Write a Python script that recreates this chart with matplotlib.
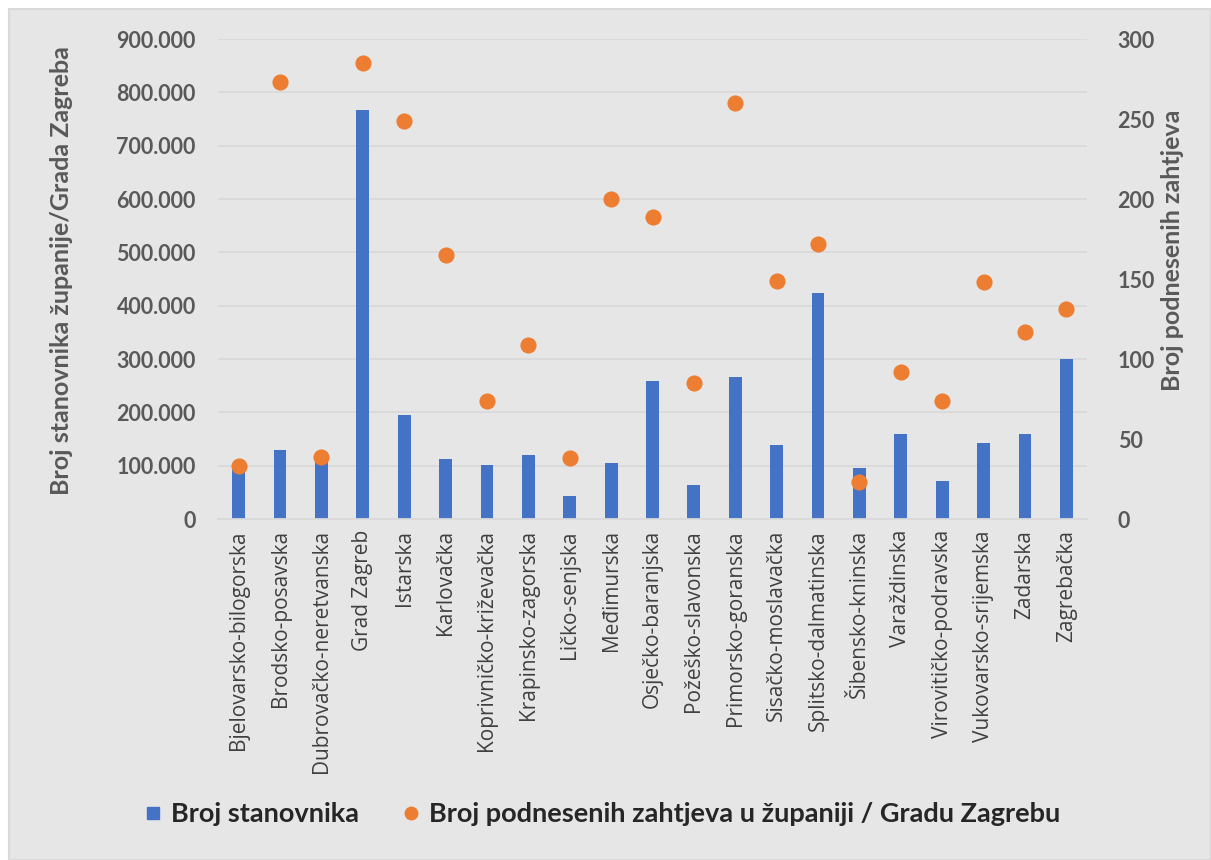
import matplotlib
matplotlib.use("Agg")
import matplotlib.pyplot as plt
from matplotlib.patches import Rectangle
from matplotlib.ticker import FuncFormatter, MultipleLocator
from matplotlib.lines import Line2D

# county names and values
zupanije = [
    "Bjelovarsko-bilogorska", "Brodsko-posavska", "Dubrovačko-neretvanska",
    "Grad Zagreb", "Istarska", "Karlovačka", "Koprivničko-križevačka",
    "Krapinsko-zagorska", "Ličko-senjska", "Međimurska", "Osječko-baranjska",
    "Požeško-slavonska", "Primorsko-goranska", "Sisačko-moslavačka",
    "Splitsko-dalmatinska", "Šibensko-kninska", "Varaždinska",
    "Virovitičko-podravska", "Vukovarsko-srijemska", "Zadarska", "Zagrebačka",
]
stanovnici = [102295, 130267, 115564, 767131, 195794, 112195, 101661,
              120702, 42748, 105250, 258026, 64084, 265419, 139603,
              423407, 96381, 159487, 70368, 143113, 159766, 299985]
zahtjevi = [33, 273, 39, 285, 249, 165, 74, 109, 38, 200, 189, 85, 260,
            149, 172, 23, 92, 74, 148, 117, 131]

BLUE = "#4472C4"
ORANGE = "#ED7D31"
BG = "#E7E6E6"
GRID = "#D9D9D9"
TXT = "#595959"
BOLD_FONT = ["Lato", "DejaVu Sans"]
LABEL_FONT = ["Open Sans", "DejaVu Sans"]

fig = plt.figure(figsize=(12.11, 8.6), dpi=100)
fig.patch.set_facecolor("white")
W, H = 1211, 860
fig.patches.append(Rectangle((9 / W, 0), 1 - 9 / W, 1 - 9 / H,
                             transform=fig.transFigure, facecolor=BG,
                             edgecolor=GRID, linewidth=1.5, zorder=-5))

ax = fig.add_axes([218 / W, 1 - 519 / H, (1087 - 218) / W, (519 - 39) / H])
ax.set_facecolor("none")
ax2 = ax.twinx()
ax2.set_facecolor("none")

x = range(len(zupanije))
ax.bar(x, stanovnici, width=0.31, color=BLUE, zorder=2)
ax2.scatter(x, zahtjevi, s=135, color=ORANGE, zorder=3, linewidths=0)

ax.set_xlim(-0.5, len(zupanije) - 0.5)
ax.set_ylim(0, 900000)
ax2.set_ylim(0, 300)
ax.yaxis.set_major_locator(MultipleLocator(100000))
ax2.yaxis.set_major_locator(MultipleLocator(50))


def hr_thousands(v, pos):
    return "{:,.0f}".format(v).replace(",", ".")


ax.yaxis.set_major_formatter(FuncFormatter(hr_thousands))
ax.grid(axis="y", color=GRID, linewidth=1.3, zorder=0)
ax.set_axisbelow(True)

for a in (ax, ax2):
    for s in a.spines.values():
        s.set_visible(False)
    a.tick_params(length=0)
ax.spines["bottom"].set_visible(True)
ax.spines["bottom"].set_color(GRID)
ax.spines["bottom"].set_linewidth(1.3)

ax.set_xticks(list(x))
ax.set_xticklabels(zupanije, rotation=90, fontsize=15, family=LABEL_FONT,
                   color="#404040")
ax.tick_params(axis="x", pad=8)
for lab in ax.get_yticklabels():
    lab.set_fontfamily(BOLD_FONT)
    lab.set_fontweight("bold")
    lab.set_fontsize(15.5)
    lab.set_color(TXT)
ax.tick_params(axis="y", pad=16)
for lab in ax2.get_yticklabels():
    lab.set_fontfamily(BOLD_FONT)
    lab.set_fontweight("bold")
    lab.set_fontsize(15.5)
    lab.set_color(TXT)
ax2.tick_params(axis="y", pad=22)

fig.text(62 / W, 1 - 271 / H, "Broj stanovnika županije/Grada Zagreba",
         rotation=90, ha="center", va="center", fontsize=18,
         fontweight="bold", family=BOLD_FONT, color=TXT)
fig.text(1172 / W, 1 - 250 / H, "Broj podnesenih zahtjeva",
         rotation=90, ha="center", va="center", fontsize=18,
         fontweight="bold", family=BOLD_FONT, color=TXT)

handles = [
    Line2D([], [], marker="s", linestyle="none", markersize=9,
           color=BLUE, label="Broj stanovnika"),
    Line2D([], [], marker="o", linestyle="none", markersize=9,
           color=ORANGE, label="Broj podnesenih zahtjeva u županiji / Gradu Zagrebu"),
]
fig.legend(handles=handles, loc="center", bbox_to_anchor=(0.497, 1 - 814 / H),
           ncol=2, frameon=False, handlelength=0.7, handletextpad=0.3,
           columnspacing=1.6,
           prop={"family": BOLD_FONT, "weight": "bold", "size": 19.5},
           labelcolor="#262626")

fig.savefig("out.png", dpi=100, facecolor=fig.get_facecolor())
